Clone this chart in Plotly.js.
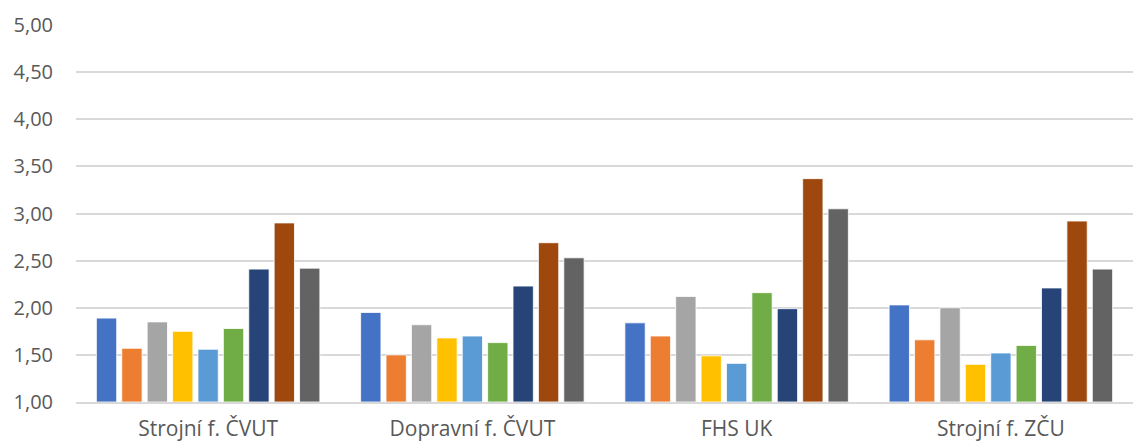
<!DOCTYPE html>
<html><head><meta charset="utf-8">
<script src="https://cdn.plot.ly/plotly-3.0.1.min.js"></script>
<style>html,body{margin:0;padding:0;background:#fff}#chart{width:1134px;height:443px}</style>
</head><body><div id="chart"></div>
<script>
const categories = ["Strojní f. ČVUT", "Dopravní f. ČVUT", "FHS UK", "Strojní f. ZČU"];
const seriesNames = ["Řada 1","Řada 2","Řada 3","Řada 4","Řada 5","Řada 6","Řada 7","Řada 8","Řada 9"];
const s1 = [1.89, 1.95, 1.84, 2.03];
const s2 = [1.57, 1.50, 1.70, 1.66];
const s3 = [1.85, 1.82, 2.12, 2.00];
const s4 = [1.75, 1.68, 1.49, 1.40];
const s5 = [1.56, 1.70, 1.41, 1.52];
const s6 = [1.78, 1.63, 2.16, 1.60];
const s7 = [2.41, 2.23, 1.99, 2.21];
const s8 = [2.90, 2.69, 3.37, 2.92];
const s9 = [2.42, 2.53, 3.05, 2.41];
const tickVals = [1, 1.5, 2, 2.5, 3, 3.5, 4, 4.5, 5];
const tickText = ["1,00","1,50","2,00","2,50","3,00","3,50","4,00","4,50","5,00"];

const colors = ["#4472C4","#ED7D31","#A5A5A5","#FFC000","#5B9BD5","#70AD47","#264478","#9E480E","#636363"];
const all = [s1,s2,s3,s4,s5,s6,s7,s8,s9];
const traces = all.map((v,i)=>({
  type:"bar", x:categories, y:v.map(d=>d-1), base:1, name:seriesNames[i],
  marker:{color:colors[i], line:{color:"#ffffff", width:0.8}},
  hoverinfo:"y"
}));
const layout = {
  width:1134, height:443,
  margin:{l:76, r:1, t:25, b:41},
  paper_bgcolor:"#fff", plot_bgcolor:"#fff",
  barmode:"group", bargap:0.135, bargroupgap:0.2,
  showlegend:false,
  font:{family:"Open Sans, sans-serif", color:"#595959", size:20},
  xaxis:{type:"category", showgrid:false, showline:true, linecolor:"#d9d9d9", linewidth:2,
         ticks:"", tickfont:{size:21, color:"#595959"}, ticklabelstandoff:7},
  yaxis:{range:[1,5], tickvals:tickVals, ticktext:tickText, showgrid:true, gridcolor:"#d9d9d9",
         gridwidth:2, zeroline:false, showline:false, ticks:"", tickfont:{size:20, color:"#595959"},
         ticklabelstandoff:22}
};
Plotly.newPlot("chart", traces, layout, {displayModeBar:false, staticPlot:true});
</script></body></html>
